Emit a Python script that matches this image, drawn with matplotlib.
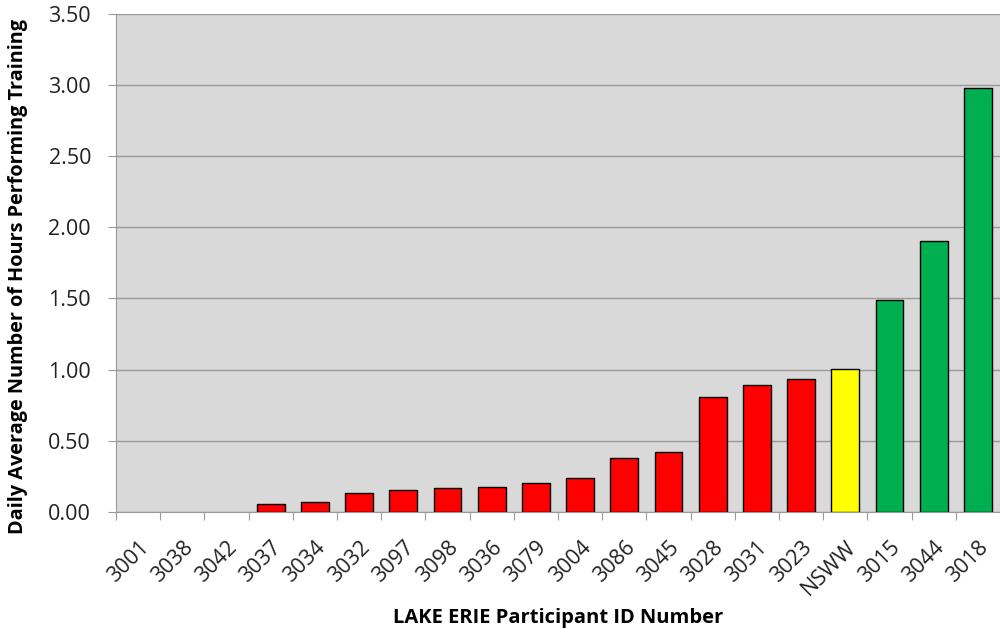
import matplotlib.pyplot as plt
import numpy as np

participants = ['3001', '3038', '3042', '3037', '3034', '3032', '3097', '3098', '3036', '3079',
                '3004', '3086', '3045', '3028', '3031', '3023', 'NSWW', '3015', '3044', '3018']
hours = [0.0, 0.0, 0.0, 0.055, 0.07, 0.13, 0.155, 0.17, 0.175, 0.20,
         0.24, 0.38, 0.42, 0.81, 0.89, 0.935, 1.005, 1.49, 1.90, 2.98]
colores = ['#ff0000'] * 16 + ['#ffff00'] + ['#00b050'] * 3

plt.rcParams['font.family'] = ['Open Sans', 'DejaVu Sans']

fig = plt.figure(figsize=(10, 6.28), dpi=100)
ax = fig.add_axes([0.116, 0.185, 0.884, 0.793])
ax.set_facecolor('#d9d9d9')

x = np.arange(len(participants))
# sin borde para las barras con valor cero
bordes = [1 if h > 0 else 0 for h in hours]
ax.bar(x, hours, width=0.63, color=colores, edgecolor='black', linewidth=bordes, zorder=3)

ax.set_xlim(-0.5, len(participants) - 0.5)
ax.set_ylim(0, 3.5)
ax.set_yticks(np.arange(0, 3.51, 0.5))
ax.set_yticklabels(['%.2f' % v for v in np.arange(0, 3.51, 0.5)], fontsize=15.5, color='#222222')
ax.yaxis.grid(True, color='#999999', linewidth=1, zorder=0)

# ticks de x entre categorias, etiquetas centradas
ax.set_xticks(np.arange(-0.5, len(participants), 1))
ax.set_xticklabels([])
ax.set_xticks(x, minor=True)
ax.set_xticklabels(participants, minor=True, rotation=45, ha='right', rotation_mode='anchor',
                   fontsize=15.5, color='#222222')
ax.tick_params(axis='x', which='minor', length=0, pad=18)
ax.tick_params(axis='x', which='major', length=6, color='#999999')
ax.tick_params(axis='y', length=6, color='#999999', pad=12)

for s in ['top', 'right']:
    ax.spines[s].set_visible(False)
ax.spines['left'].set_color('#999999')
ax.spines['bottom'].set_color('#999999')

ax.set_xlabel('LAKE ERIE Participant ID Number', fontsize=14.5, fontweight='bold', labelpad=6)
ax.set_ylabel('Daily Average Number of Hours Performing Training', fontsize=14.3,
              fontweight='bold')
ax.yaxis.set_label_coords(-0.1, 0.472)

fig.savefig('out.png', dpi=100)
